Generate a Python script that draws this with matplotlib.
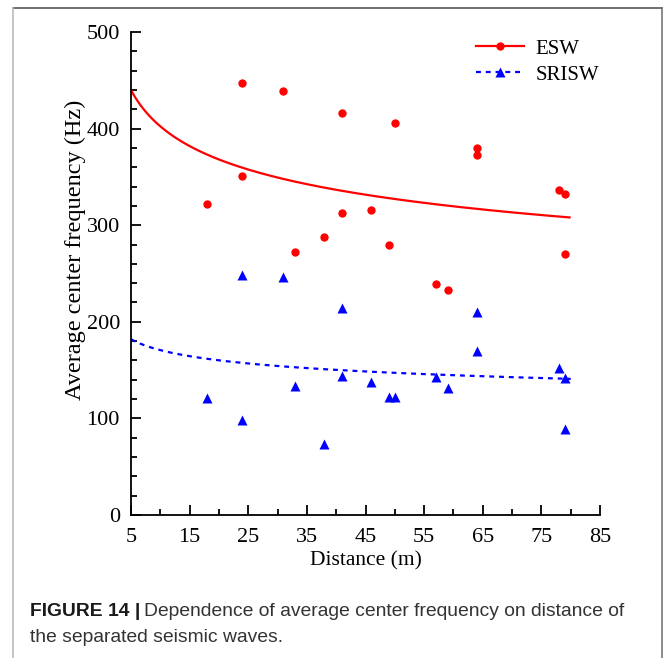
import matplotlib
matplotlib.use("Agg")
import matplotlib.pyplot as plt
import numpy as np
from matplotlib.lines import Line2D
from matplotlib.ticker import MultipleLocator

# ---- data ----
distance = [18, 24, 24, 31, 33, 38, 41, 41, 46, 49, 50, 57, 59, 64, 64, 78, 79, 79]
esw_freq = [322, 447, 351, 439, 272, 288, 416, 313, 316, 279, 406, 239, 233, 380, 373, 336, 332, 270]
srisw_freq = [121, 248, 98, 246, 134, 74, 214, 144, 138, 122, 122, 143, 131, 210, 170, 152, 142, 89]

# power-law fit curves (y = a * x^b), coefficients
esw_fit_a, esw_fit_b = 541.0, -0.1286
srisw_fit_a, srisw_fit_b = 211.0, -0.0921
fit_range = (5, 80)

xticks = [5, 15, 25, 35, 45, 55, 65, 75, 85]
yticks = [0, 100, 200, 300, 400, 500]

serif = ["Liberation Serif", "DejaVu Serif"]
plt.rcParams["font.family"] = serif

fig = plt.figure(figsize=(6.65, 6.58), dpi=100)
ax = fig.add_axes([131/665, 1-515/658, (600-131)/665, (515-32)/658])

xf = np.linspace(fit_range[0], fit_range[1], 300)
ax.plot(xf, esw_fit_a * xf**esw_fit_b, color="#ff0000", lw=1.6, solid_capstyle="butt")
ax.plot(xf, srisw_fit_a * xf**srisw_fit_b, color="#0000ff", lw=1.6, ls=(0, (2.2, 2.2)))
ax.plot(distance, esw_freq, "o", color="#ff0000", ms=6, mec="none")
ax.plot(distance, srisw_freq, "^", color="#0000ff", ms=7.5, mec="none")

ax.set_xlim(5, 85)
ax.set_ylim(0, 500)
ax.set_xticks(xticks)
ax.set_yticks(yticks)
ax.xaxis.set_minor_locator(MultipleLocator(5))
ax.yaxis.set_minor_locator(MultipleLocator(20))
ax.tick_params(which="major", direction="in", length=7, width=1.3, labelsize=16)
ax.tick_params(which="minor", direction="in", length=4, width=1.3)
ax.tick_params(axis="x", which="major", pad=9.5)
ax.tick_params(axis="y", which="major", pad=8)
for s in ["top", "right"]:
    ax.spines[s].set_visible(False)
for s in ["left", "bottom"]:
    ax.spines[s].set_linewidth(1.3)

ax.set_xlabel("Distance (m)", fontsize=15.5, labelpad=3)
ax.set_ylabel("Average center frequency (Hz)", fontsize=17.5)
ax.yaxis.set_label_coords(-0.097, 0.55)

handles = [
    Line2D([], [], color="#ff0000", lw=1.6, marker="o", ms=6, mec="none"),
    Line2D([], [], color="#0000ff", lw=1.6, ls=(0, (2.2, 2.2)), marker="^", ms=6.5, mec="none"),
]
ax.legend(handles, ["ESW", "SRISW"], loc="upper right", bbox_to_anchor=(1.038, 1.024),
          frameon=False, fontsize=15, handlelength=2.3, handletextpad=0.55,
          labelspacing=0.3)

# frame lines of the figure card
fig.add_artist(Line2D([13/665, 662/665], [1-8/658, 1-8/658], color="#555555", lw=1.2))
fig.add_artist(Line2D([13/665, 13/665], [1-8/658, 0], color="#bbbbbb", lw=1.2))
fig.add_artist(Line2D([662/665, 662/665], [1-8/658, 0], color="#777777", lw=1.2))

cap_font = ["Liberation Sans", "DejaVu Sans"]
t1 = fig.text(30/665, 1-612/658, "FIGURE 14 |", fontsize=13.9, fontweight="bold",
              family=cap_font, va="center", ha="left", color="#1a1a1a")
fig.canvas.draw()
bb = t1.get_window_extent()
fig.text((bb.x1 + 4)/665, 1-612/658, "Dependence of average center frequency on distance of",
         fontsize=13.9, family=cap_font, va="center", ha="left", color="#333333")
fig.text(30/665, 1-637/658, "the separated seismic waves.", fontsize=13.9,
         family=cap_font, va="center", ha="left", color="#333333")

fig.savefig("out.png", dpi=100)
